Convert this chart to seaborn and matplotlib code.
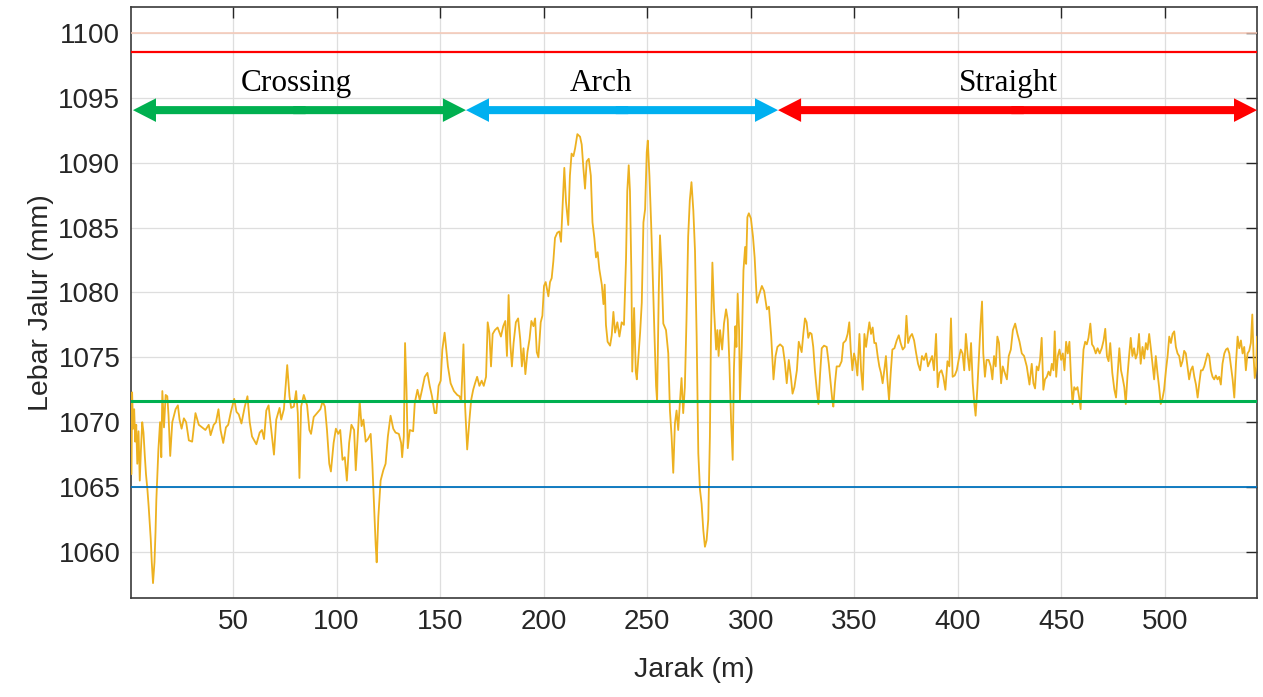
import numpy as np
import pandas as pd
import matplotlib
matplotlib.use("Agg")
import matplotlib.pyplot as plt
import seaborn as sns

# lebar jalur (mm) terhadap jarak (m): (jarak, lebar)
crossing = [
    (1.0, 1066.0), (1.3, 1072.3), (1.8, 1069.5), (2.3, 1071.0), (2.8, 1068.5), (3.3, 1069.8),
    (3.8, 1066.8), (4.4, 1069.3), (5.0, 1065.5), (5.6, 1068.0), (6.2, 1070.0), (6.8, 1069.2),
    (7.4, 1067.5), (8.0, 1066.0), (8.7, 1064.8), (9.3, 1063.5), (9.8, 1062.3), (10.3, 1061.0),
    (10.8, 1059.2), (11.4, 1057.6), (12.1, 1059.2), (12.6, 1061.5), (13.0, 1064.0), (13.5, 1066.0),
    (14.0, 1067.9), (14.8, 1070.0), (15.4, 1067.3), (15.9, 1072.4), (16.7, 1069.6), (17.5, 1072.1),
    (18.3, 1072.0), (18.9, 1070.5), (19.7, 1067.4), (20.7, 1070.0), (22.3, 1071.0), (23.4, 1071.3),
    (24.2, 1070.2), (25.2, 1069.5), (26.3, 1070.3), (27.4, 1070.0), (28.7, 1068.6), (30.3, 1068.5),
    (31.9, 1070.7), (33.5, 1069.8), (35.1, 1069.6), (36.7, 1069.4), (38.3, 1069.8), (39.2, 1069.0),
    (40.7, 1069.8), (41.8, 1070.0), (43.0, 1071.0), (44.0, 1069.4), (45.3, 1068.4), (46.6, 1069.6),
    (47.7, 1069.8), (49.0, 1070.8), (50.6, 1071.8), (51.7, 1070.8), (52.8, 1070.6), (54.1, 1069.9),
    (55.7, 1071.2), (57.0, 1072.0), (58.1, 1070.0), (59.2, 1068.9), (61.3, 1068.3), (62.9, 1069.2),
    (64.0, 1069.4), (65.0, 1068.7), (66.1, 1070.9), (67.2, 1071.3), (68.5, 1069.4), (69.8, 1067.5),
    (70.9, 1070.2), (72.5, 1071.1), (73.3, 1070.2), (74.6, 1071.0), (76.2, 1074.4), (77.3, 1072.0),
    (78.1, 1071.1), (79.4, 1071.2), (80.5, 1072.4), (81.3, 1070.7), (82.1, 1065.7), (82.9, 1071.2),
    (84.2, 1072.1), (85.8, 1071.3), (86.9, 1069.4), (87.7, 1069.1), (89.0, 1070.4), (90.6, 1070.7),
    (92.2, 1071.0), (93.3, 1071.6), (94.4, 1071.2), (95.4, 1069.4), (96.5, 1066.8), (97.3, 1066.2),
    (98.6, 1068.4), (99.7, 1069.5), (100.8, 1069.1), (101.8, 1069.4), (102.9, 1067.1), (104.0, 1067.3),
    (105.0, 1065.5), (106.1, 1068.4), (107.2, 1069.8), (108.5, 1069.4), (109.3, 1066.3), (110.4, 1069.4),
    (111.2, 1071.6), (112.1, 1069.7), (113.0, 1070.2), (114.1, 1068.5), (115.2, 1068.7), (116.5, 1069.1),
    (117.3, 1066.8), (118.1, 1063.7), (118.9, 1060.6), (119.4, 1059.2), (120.2, 1062.7), (121.3, 1065.5),
    (122.6, 1066.3), (123.7, 1066.8), (124.8, 1068.9), (126.1, 1070.5), (127.4, 1069.5), (128.5, 1069.2),
    (130.1, 1069.1), (131.2, 1068.4), (131.7, 1067.3), (132.5, 1068.9), (133.1, 1076.1), (133.8, 1072.5),
    (134.4, 1068.0), (135.4, 1069.4), (137.0, 1069.3), (137.8, 1071.5), (139.1, 1072.5), (140.2, 1071.7),
    (141.3, 1072.5), (142.6, 1073.5), (143.9, 1073.8), (145.0, 1072.8), (146.1, 1072.0), (147.4, 1070.7),
    (148.2, 1070.7), (149.3, 1072.8), (150.3, 1073.2), (151.1, 1075.6), (152.2, 1076.9), (153.0, 1075.6),
    (153.8, 1074.3), (155.1, 1073.0), (156.7, 1072.4), (158.3, 1072.1), (159.4, 1072.0), (160.2, 1071.6),
    (161.3, 1076.0), (162.1, 1071.2),
]

arch = [
    (163.1, 1067.9), (164.2, 1070.2), (165.0, 1071.7), (166.0, 1072.5), (166.9, 1073.0), (167.9, 1073.5),
    (169.0, 1072.8), (170.1, 1073.2), (171.1, 1072.8), (172.2, 1073.5), (173.0, 1077.7), (173.8, 1076.9),
    (174.6, 1074.3), (175.4, 1076.8), (176.5, 1077.1), (177.8, 1077.3), (179.4, 1076.6), (180.5, 1077.4),
    (181.5, 1077.8), (182.3, 1075.1), (183.1, 1079.8), (183.9, 1076.1), (184.7, 1074.3), (185.5, 1076.1),
    (186.6, 1077.7), (187.7, 1078.0), (188.7, 1076.4), (189.5, 1074.3), (190.3, 1075.7), (191.2, 1073.7),
    (192.2, 1075.4), (193.2, 1076.4), (194.1, 1077.8), (195.1, 1077.4), (195.9, 1078.0), (196.7, 1075.4),
    (197.5, 1075.0), (198.6, 1077.7), (199.4, 1078.2), (200.2, 1080.5), (201.0, 1080.8), (202.3, 1079.7),
    (203.1, 1080.8), (203.9, 1081.1), (204.7, 1082.4), (205.5, 1084.2), (206.6, 1084.6), (207.6, 1084.7),
    (208.4, 1083.9), (209.2, 1086.7), (210.0, 1089.6), (210.8, 1087.0), (211.9, 1085.2), (212.7, 1089.0),
    (213.5, 1090.7), (214.4, 1090.5), (215.2, 1091.1), (216.3, 1092.2), (217.6, 1092.0), (218.4, 1091.4),
    (219.2, 1089.6), (220.0, 1088.0), (220.8, 1090.1), (221.8, 1090.3), (222.8, 1089.0), (223.6, 1085.4),
    (224.5, 1084.2), (225.3, 1082.7), (226.1, 1083.1), (226.9, 1081.8), (228.1, 1080.6), (228.9, 1079.1),
    (229.5, 1080.6), (230.1, 1077.5), (230.9, 1076.2), (232.1, 1075.9), (232.9, 1076.7), (233.7, 1078.5),
    (234.5, 1076.9), (235.6, 1077.7), (236.6, 1076.6), (237.7, 1077.7), (238.8, 1077.5), (239.8, 1082.6),
    (240.4, 1087.8), (241.1, 1089.8), (241.7, 1087.8), (242.4, 1081.3), (242.8, 1073.9), (243.7, 1078.8),
    (244.5, 1073.9), (245.0, 1073.3), (245.8, 1075.1), (246.6, 1076.9), (247.4, 1079.2), (248.2, 1085.4),
    (249.0, 1086.4), (249.8, 1090.8), (250.3, 1091.7), (251.1, 1089.0), (251.9, 1085.4), (252.7, 1081.3),
    (253.5, 1076.9), (254.3, 1072.8), (254.8, 1071.6), (255.6, 1080.0), (256.2, 1084.4), (257.0, 1081.7),
    (257.8, 1077.6), (259.1, 1077.1), (260.2, 1075.3), (261.0, 1070.9), (261.8, 1068.9), (262.6, 1066.1),
    (263.4, 1069.9), (264.2, 1070.9), (265.0, 1069.4), (265.8, 1071.5), (266.6, 1073.4), (267.4, 1070.7),
    (268.2, 1072.7), (269.0, 1077.9), (269.8, 1084.3), (270.6, 1087.1), (271.4, 1088.5), (272.3, 1086.3),
    (273.1, 1083.2), (273.9, 1076.6), (274.7, 1067.6), (275.5, 1064.8), (276.3, 1063.7), (277.1, 1061.7),
    (277.9, 1060.4), (278.7, 1060.9), (279.5, 1062.5), (280.3, 1068.9), (280.8, 1076.6), (281.5, 1082.3),
    (282.3, 1078.7), (283.3, 1075.6), (283.9, 1077.1), (284.5, 1075.1), (285.2, 1077.1), (286.2, 1075.6),
    (287.1, 1077.6), (288.1, 1078.7), (288.9, 1077.9), (289.7, 1074.6), (290.5, 1070.2), (291.3, 1067.1),
    (291.9, 1074.1), (292.6, 1077.4), (293.1, 1075.8), (293.7, 1079.9), (294.4, 1077.1), (294.8, 1071.7),
    (295.7, 1075.8), (296.5, 1081.7), (297.3, 1083.5), (297.8, 1082.2), (298.4, 1085.8), (299.1, 1086.1),
    (300.1, 1085.7), (301.1, 1084.3), (301.9, 1082.7), (303.0, 1079.2), (304.0, 1079.8), (305.4, 1080.5),
    (306.5, 1080.1), (307.8, 1078.7), (308.8, 1078.9), (309.9, 1076.6), (311.0, 1073.3), (312.0, 1075.1),
]

straight = [
    (312.9, 1075.8), (314.2, 1076.0), (315.5, 1075.8), (316.5, 1074.6), (317.4, 1073.0), (318.4, 1074.8),
    (319.4, 1073.5), (320.2, 1072.2), (321.1, 1072.7), (322.3, 1074.0), (323.2, 1076.2), (324.6, 1075.4),
    (325.4, 1076.8), (326.2, 1078.0), (327.0, 1077.7), (327.8, 1076.5), (328.6, 1076.9), (329.4, 1076.8),
    (330.2, 1075.8), (331.0, 1074.0), (331.9, 1072.5), (332.7, 1071.4), (333.5, 1073.7), (334.3, 1075.7),
    (335.4, 1075.9), (336.7, 1075.8), (337.7, 1074.5), (338.6, 1073.0), (339.4, 1071.7), (339.9, 1071.2),
    (340.7, 1073.0), (341.5, 1074.3), (342.8, 1074.3), (343.9, 1074.7), (344.7, 1076.1), (345.9, 1076.3),
    (346.8, 1076.8), (347.6, 1077.7), (348.3, 1075.6), (349.1, 1074.0), (349.9, 1075.3), (350.7, 1074.7),
    (351.5, 1073.6), (352.5, 1076.8), (353.3, 1074.0), (354.1, 1072.5), (354.9, 1076.8), (355.7, 1075.8),
    (356.5, 1076.8), (357.3, 1077.7), (358.1, 1076.8), (358.9, 1077.3), (359.7, 1076.1), (360.5, 1076.1),
    (361.3, 1075.1), (362.1, 1074.3), (362.9, 1073.8), (363.7, 1073.0), (364.5, 1074.0), (365.3, 1075.1),
    (366.0, 1073.3), (366.8, 1071.7), (367.6, 1073.8), (368.4, 1075.6), (369.4, 1075.7), (370.5, 1076.3),
    (371.5, 1076.7), (372.4, 1076.1), (373.4, 1075.6), (374.4, 1075.8), (375.2, 1078.2), (376.0, 1076.1),
    (377.0, 1076.6), (377.9, 1076.8), (378.9, 1076.3), (379.9, 1075.3), (380.8, 1074.5), (381.8, 1074.0),
    (382.7, 1075.1), (383.7, 1074.8), (384.7, 1075.3), (385.6, 1074.3), (386.6, 1074.7), (387.6, 1075.1),
    (388.5, 1074.0), (389.5, 1076.8), (390.3, 1072.7), (391.1, 1073.8), (392.1, 1074.0), (393.0, 1073.5),
    (394.0, 1072.5), (395.0, 1074.7), (395.9, 1074.3), (396.7, 1078.0), (397.5, 1073.5), (398.5, 1073.6),
    (399.5, 1074.0), (400.4, 1074.8), (401.4, 1075.6), (402.3, 1075.3), (403.1, 1074.0), (403.9, 1076.8),
    (404.8, 1075.1), (405.6, 1074.0), (406.4, 1076.1), (407.2, 1073.0), (408.0, 1071.4), (408.6, 1070.5),
    (409.4, 1072.5), (410.2, 1075.1), (411.0, 1077.6), (411.7, 1079.3), (412.3, 1075.3), (413.1, 1073.5),
    (413.9, 1074.8), (414.9, 1074.8), (415.9, 1074.3), (416.7, 1073.3), (417.5, 1075.1), (418.3, 1074.3),
    (419.1, 1076.6), (419.9, 1076.1), (420.9, 1073.0), (421.7, 1074.3), (422.7, 1073.8), (423.7, 1073.3),
    (424.6, 1075.1), (425.6, 1075.6), (426.6, 1077.1), (427.7, 1077.6), (428.8, 1076.8), (429.8, 1076.2),
    (430.9, 1075.3), (432.0, 1075.1), (433.3, 1074.3), (434.6, 1072.9), (435.7, 1074.5), (436.5, 1073.0),
    (437.3, 1072.6), (438.1, 1074.3), (438.9, 1074.0), (439.7, 1074.8), (440.5, 1076.5), (441.3, 1072.5),
    (442.1, 1073.3), (443.0, 1073.5), (443.8, 1073.9), (444.6, 1073.6), (445.4, 1074.5), (446.2, 1074.0),
    (446.8, 1077.0), (447.5, 1073.5), (448.3, 1075.1), (449.1, 1075.6), (449.9, 1074.8), (450.7, 1075.3),
    (451.5, 1074.0), (452.3, 1076.2), (453.1, 1075.3), (453.9, 1076.2), (454.7, 1073.3), (455.4, 1071.4),
    (456.2, 1072.7), (457.0, 1072.5), (457.8, 1072.7), (458.6, 1071.9), (459.3, 1071.0), (459.9, 1073.3),
    (460.7, 1075.6), (461.5, 1076.2), (462.3, 1076.0), (463.1, 1076.5), (464.0, 1077.6), (464.8, 1076.0),
    (465.6, 1075.8), (466.6, 1075.3), (467.5, 1075.7), (468.5, 1075.3), (469.5, 1075.7), (470.4, 1076.3),
    (471.2, 1077.2), (472.0, 1075.1), (472.8, 1074.7), (473.6, 1076.1), (474.6, 1073.8), (475.6, 1072.5),
    (476.4, 1071.9), (477.2, 1073.8), (478.0, 1075.7), (478.8, 1074.0), (479.6, 1073.4), (480.4, 1072.7),
    (481.1, 1071.4), (481.9, 1073.5), (482.7, 1075.1), (483.5, 1076.5), (484.3, 1075.1), (485.1, 1075.7),
    (485.9, 1074.9), (486.7, 1075.3), (487.5, 1076.8), (488.3, 1074.5), (489.2, 1075.8), (490.0, 1074.9),
    (490.8, 1076.1), (491.6, 1075.6), (492.4, 1076.8), (493.2, 1075.7), (494.0, 1074.5), (494.8, 1073.3),
    (495.6, 1075.1), (496.4, 1073.8), (497.2, 1072.7), (498.0, 1071.4), (498.8, 1071.8), (499.6, 1072.5),
    (500.5, 1074.0), (501.3, 1075.1), (502.1, 1076.6), (502.9, 1076.1), (503.7, 1076.8), (504.5, 1077.0),
    (505.3, 1075.8), (506.1, 1075.3), (506.9, 1075.1), (507.7, 1074.3), (508.5, 1074.7), (509.3, 1075.5),
    (510.1, 1075.3), (510.9, 1074.3), (511.7, 1073.3), (512.5, 1074.0), (513.4, 1074.3), (514.2, 1073.5),
    (515.0, 1072.9), (515.8, 1071.9), (516.6, 1073.0), (517.4, 1074.0), (518.2, 1074.0), (519.0, 1074.3),
    (519.8, 1074.8), (520.6, 1075.3), (521.4, 1075.1), (522.2, 1074.0), (523.0, 1073.5), (523.8, 1073.3),
    (524.6, 1073.6), (525.4, 1073.3), (526.2, 1073.5), (527.0, 1072.9), (527.8, 1074.5), (528.7, 1075.3),
    (529.5, 1075.6), (530.3, 1075.7), (531.1, 1075.3), (531.9, 1074.3), (532.7, 1073.3), (533.5, 1071.9),
    (534.3, 1074.5), (535.1, 1076.6), (535.9, 1075.7), (536.7, 1076.3), (537.5, 1075.3), (538.3, 1075.8),
    (539.1, 1074.0), (539.9, 1075.3), (540.7, 1075.5), (541.5, 1076.1), (542.2, 1078.3), (542.8, 1075.1),
    (543.4, 1073.4), (544.1, 1074.3), (544.5, 1076.6),
]

# garis batas
ref_levels = [1100.0, 1098.5, 1071.6, 1065.0]
ref_colors = ["#F6C8B6", "#FF0000", "#00B050", "#0072BD"]
ref_widths = [1.1, 1.6, 2.2, 1.3]

# segmen lintasan (panah)
section_names = ["Crossing", "Arch", "Straight"]
section_start = [1.7, 162.5, 313.2]
section_end = [162.5, 313.2, 544.5]
section_label_x = [80.4, 227.7, 424.2]
section_colors = ["#00B050", "#00B0F0", "#FF0000"]

xticks = [50, 100, 150, 200, 250, 300, 350, 400, 450, 500]
yticks = [1060, 1065, 1070, 1075, 1080, 1085, 1090, 1095, 1100]

rows = crossing + arch + straight
df = pd.DataFrame(rows, columns=["Jarak", "Lebar"])

sns.set_style("white")
plt.rcParams["font.family"] = ["Liberation Sans", "DejaVu Sans"]

fig = plt.figure(figsize=(12.63, 6.97), dpi=100)
ax = fig.add_axes([0.1041, 0.142, 0.8912, 0.848])

sns.lineplot(data=df, x="Jarak", y="Lebar", color="#EDB120", linewidth=1.3,
             estimator=None, sort=False, ax=ax, zorder=3)

for lvl, c, w in zip(ref_levels, ref_colors, ref_widths):
    ax.axhline(lvl, color=c, linewidth=w, zorder=4)

arrow_y = 1094.05
style = "simple,head_length=1.66,head_width=1.7,tail_width=0.58"
for name, x0, x1, lx, c in zip(section_names, section_start, section_end,
                               section_label_x, section_colors):
    mid = (x0 + x1) / 2
    # dua panah dari tengah ke ujung, sedikit bertumpuk supaya tidak ada celah
    for tip, start in ((x0, mid + 3), (x1, mid - 3)):
        ax.annotate("", xy=(tip, arrow_y), xytext=(start, arrow_y),
                    arrowprops=dict(arrowstyle=style, mutation_scale=10, color=c,
                                    lw=0, shrinkA=0, shrinkB=0),
                    zorder=5, annotation_clip=False)
    ax.text(lx, 1095.5, name, family=["Liberation Serif"], fontsize=22.5,
            ha="center", va="baseline", color="black", zorder=6)

ax.set_xlim(1, 544.5)
ax.set_ylim(1056.45, 1102.0)
ax.set_xticks(xticks)
ax.set_yticks(yticks)
ax.grid(True, color="#DEDEDE", linewidth=0.9)
ax.set_axisbelow(True)

ax.tick_params(direction="in", length=8, width=1.0, top=True, right=True,
               labelsize=20, colors="#262626", pad=8)
for s in ax.spines.values():
    s.set_visible(True)
    s.set_color("#3A3A3A")
    s.set_linewidth(1.2)

ax.set_xlabel("Jarak (m)", fontsize=20.5, color="#262626", labelpad=16)
ax.set_ylabel("Lebar Jalur (mm)", fontsize=20.5, color="#262626", labelpad=3)

fig.savefig("out.png", dpi=100)
